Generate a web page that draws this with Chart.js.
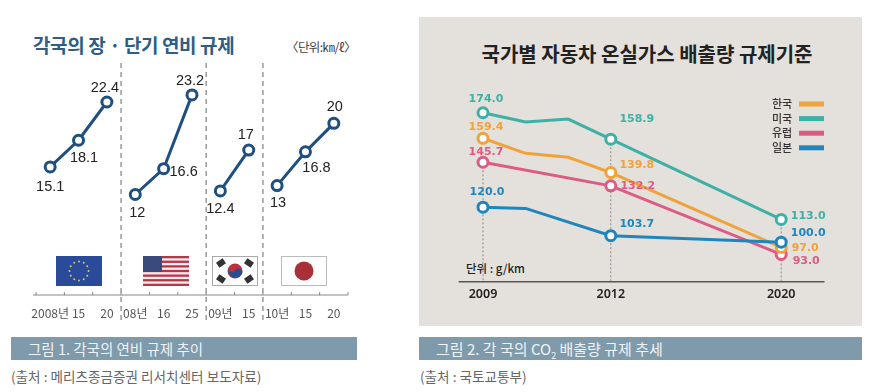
<!DOCTYPE html>
<html>
<head>
<meta charset="utf-8">
<script src="https://cdn.jsdelivr.net/npm/chart.js@4"></script>
<style>
  html, body { margin: 0; padding: 0; background: #fff; width: 873px; height: 392px; overflow: hidden; font-family: 'Noto Sans CJK KR', sans-serif; }
  canvas { position: absolute; }
  #panel { position: absolute; left: 419px; top: 17px; width: 443px; height: 309px; background: #e4e0db; }
  .txt { position: absolute; white-space: nowrap; line-height: 1; }
  .bar { position: absolute; top: 337px; height: 23px; background: #7f9bab; color: #eef3f5; line-height: 23px; }
  .flag { position: absolute; top: 256px; width: 46px; height: 30px; }
</style>
</head>
<body>
<div id="panel"></div>
<div class="txt" style="left:33px;top:35px;font-size:19px;font-weight:700;color:#2f5d85;letter-spacing:-0.4px">각국의 장 · 단기 연비 규제</div>
<div class="txt" style="left:286px;top:41px;font-size:12.5px;color:#444;letter-spacing:-0.6px">〈단위:㎞/ℓ〉</div>
<div class="txt" style="left:647px;top:44px;transform:translateX(-50%);font-size:20px;font-weight:700;color:#222">국가별 자동차 온실가스 배출량 규제기준</div>
<div class="txt" style="left:466px;top:263px;font-size:11.5px;font-weight:500;color:#222">단위 : g/km</div>

<svg class="flag" style="left:56px" viewBox="0 0 46 30" id="flagEu"><rect width="46" height="30" fill="#2a4a9a"/></svg>
<svg class="flag" style="left:143px" viewBox="0 0 46 30" id="flagUs"><rect width="46" height="30" fill="#f4eeee"/></svg>
<svg class="flag" style="left:212px" viewBox="0 0 46 30">
  <rect x="0.5" y="0.5" width="45" height="29" fill="#fff" stroke="#aaa"/>
  <circle cx="23" cy="15" r="7.5" fill="#b8333f"/>
  <path d="M16 13.5a7.5 7.5 0 0 0 14.4 3.5a4 4 0 0 0-7-3a4 4 0 0 1-7.400-.5z" fill="#23508f"/>
  <g fill="#333">
    <rect x="-4" y="-3" width="8" height="6" transform="translate(9 7) rotate(-35)"/>
    <rect x="-4" y="-3" width="8" height="6" transform="translate(37 7) rotate(35)"/>
    <rect x="-4" y="-3" width="8" height="6" transform="translate(9 23) rotate(35)"/>
    <rect x="-4" y="-3" width="8" height="6" transform="translate(37 23) rotate(-35)"/>
  </g>
</svg>
<svg class="flag" style="left:281px" viewBox="0 0 46 30">
  <rect x="0.5" y="0.5" width="45" height="29" fill="#fff" stroke="#bbb"/>
  <circle cx="23" cy="15" r="9.500" fill="#a93036"/>
</svg>

<canvas id="effChart" width="400" height="335" style="left:0;top:0;width:400px;height:335px"></canvas>
<canvas id="co2Chart" width="443" height="309" style="left:419px;top:17px;width:443px;height:309px"></canvas>

<div class="bar" style="left:11px;width:346px;text-indent:17px;font-size:14.5px">그림 1. 각국의 연비 규제 추이</div>
<div class="bar" style="left:419px;width:443px;text-indent:17px;font-size:15px">그림 2. 각 국의 CO<sub style="font-size:9px;line-height:0">2</sub> 배출량 규제 추세</div>
<div class="txt" style="left:11px;top:370px;font-size:13.6px;color:#666">(출처 : 메리츠종금증권 리서치센터 보도자료)</div>
<div class="txt" style="left:420px;top:370px;font-size:13.6px;color:#666">(출처 : 국토교통부)</div>

<script>
// left chart: fuel economy rules (km/l)
const effYears = ['2008년', '15', '20', '08년', '16', '25', '09년', '15', '10년', '15', '20'];
const effEu = [15.1, 18.1, 22.4, null, null, null, null, null, null, null, null];
// the reference draws the US 16 point lower than its printed 16.6, so plotted and printed differ
const effUs = [null, null, null, 12, 14.9, 23.2, null, null, null, null, null];
const effUsPrinted = [null, null, null, 12, 16.6, 23.2, null, null, null, null, null];
const effKr = [null, null, null, null, null, null, 12.4, 17, null, null, null];
const effJp = [null, null, null, null, null, null, null, null, 13, 16.8, 20];

// right chart: CO2 rules (g/km), blank labels are the unlabelled bends of the lines
const co2Years = ['2009', '', '', '2012', '', '', '', '2020'];
const co2Names = ['한국', '미국', '유럽', '일본'];
const co2Kr = [159.4, 150.8, 148.5, 139.8, null, null, null, 97.0];
const co2Us = [174.0, 168.7, 170.4, 158.9, null, null, null, 113.0];
const co2Eu = [145.7, null, null, 132.2, null, null, null, 93.0];
const co2Jp = [120.0, 119.3, null, 103.7, null, null, null, 100.0];
const co2GuideTops = [145.7, null, null, 158.9, null, null, null, 113.0];

const navy = '#1f4f7e';

// prints the value next to each visible point
const valueLabels = {
    id: 'valueLabels',
    afterDatasetsDraw(chart) {
        const ctx = chart.ctx;
        chart.data.datasets.forEach((ds, d) => {
            const meta = chart.getDatasetMeta(d);
            ctx.save();
            ctx.font = ds.labelFont;
            ctx.fillStyle = ds.labelColor;
            ctx.textAlign = 'center';
            ctx.textBaseline = 'middle';
            Object.keys(ds.labelOffsets).forEach(i => {
                const pt = meta.data[i];
                const off = ds.labelOffsets[i];
                const v = (ds.printed || ds.data)[i];
                const text = ds.decimals ? v.toFixed(ds.decimals) : String(v);
                ctx.fillText(text, pt.x + off[0], pt.y + off[1]);
            });
            ctx.restore();
        });
    }
};

// dashed panel separators, axis line and the small upward ticks
const effDecor = {
    id: 'effDecor',
    beforeDatasetsDraw(chart) {
        const ctx = chart.ctx;
        const area = chart.chartArea;
        const step = area.width / effYears.length;
        ctx.save();
        ctx.strokeStyle = '#888';
        ctx.lineWidth = 1;
        ctx.beginPath();
        ctx.moveTo(area.left - 3, area.bottom);
        ctx.lineTo(area.right, area.bottom);
        for (let i = 0; i <= effYears.length; i++) {
            ctx.moveTo(area.left + i * step, area.bottom);
            ctx.lineTo(area.left + i * step, area.bottom - 3);
        }
        ctx.stroke();
        ctx.strokeStyle = '#999';
        ctx.lineWidth = 1.5;
        ctx.setLineDash([5, 4]);
        [3, 6, 8].forEach(i => {
            ctx.beginPath();
            ctx.moveTo(area.left + i * step, 63);
            ctx.lineTo(area.left + i * step, 323);
            ctx.stroke();
        });
        ctx.restore();
    }
};

// baseline, dotted guides and the legend of the right chart
const co2Decor = {
    id: 'co2Decor',
    beforeDatasetsDraw(chart) {
        const ctx = chart.ctx;
        const area = chart.chartArea;
        const x = chart.scales.x;
        const y = chart.scales.y;
        ctx.save();
        ctx.strokeStyle = '#8a8a8a';
        ctx.lineWidth = 1;
        ctx.setLineDash([2, 2]);
        co2GuideTops.forEach((top, i) => {
            if (top === null) return;
            ctx.beginPath();
            ctx.moveTo(x.getPixelForValue(i), y.getPixelForValue(top));
            ctx.lineTo(x.getPixelForValue(i), area.bottom);
            ctx.stroke();
        });
        ctx.setLineDash([]);
        ctx.strokeStyle = '#555';
        ctx.lineWidth = 1.5;
        ctx.beginPath();
        ctx.moveTo(area.left - 3, area.bottom);
        ctx.lineTo(area.right + 22, area.bottom);
        ctx.stroke();

        ctx.font = "500 11px 'Noto Sans CJK KR'";
        ctx.textAlign = 'center';
        ctx.textBaseline = 'middle';
        chart.data.datasets.forEach((ds, i) => {
            const rowY = 87 + i * 14.6;
            ctx.fillStyle = '#333';
            ctx.fillText(ds.label, 363, rowY);
            ctx.fillStyle = ds.borderColor;
            ctx.fillRect(380, rowY - 2.5, 25, 5);
        });
        ctx.restore();
    }
};

function effSeries(label, data, labelOffsets, printed) {
    return {
        label, data, labelOffsets, printed,
        labelFont: "14.5px 'Liberation Sans'",
        labelColor: '#222',
        borderColor: navy,
        borderWidth: 3,
        backgroundColor: '#fff',
        pointBackgroundColor: '#fff',
        pointBorderColor: navy,
        pointBorderWidth: 3,
        pointRadius: 5,
        tension: 0
    };
}

new Chart(document.getElementById('effChart'), {
    type: 'line',
    data: {
        labels: effYears,
        datasets: [
            effSeries('EU', effEu, { 0: [0, 20], 1: [5.5, 18], 2: [-2, -14] }),
            effSeries('미국', effUs, { 3: [2, 18], 4: [20, 3], 5: [-2, -14] }, effUsPrinted),
            effSeries('한국', effKr, { 6: [0, 18], 7: [-3, -15] }),
            effSeries('일본', effJp, { 8: [1, 17], 9: [11, 16], 10: [1, -16] })
        ]
    },
    options: {
        responsive: false,
        animation: false,
        layout: { padding: { left: 36, right: 52, top: 70 } },
        plugins: { legend: { display: false }, tooltip: { enabled: false } },
        scales: {
            x: {
                offset: true,
                afterFit: s => { s.height = 40; },
                grid: { display: false },
                border: { display: false },
                ticks: {
                    autoSkip: false, maxRotation: 0, padding: 3,
                    color: '#555',
                    font: { family: "'Noto Sans CJK KR'", size: 12 }
                }
            },
            y: { display: false, min: 0.7, max: 26 }
        }
    },
    plugins: [effDecor, valueLabels]
});

function co2Series(i, data, color, order, labelOffsets) {
    return {
        label: co2Names[i], data, labelOffsets, order,
        decimals: 1,
        labelFont: "bold 11px 'DejaVu Sans'",
        labelColor: color,
        borderColor: color,
        borderWidth: 3,
        backgroundColor: '#fff',
        pointBackgroundColor: '#fff',
        pointBorderColor: color,
        pointBorderWidth: 3,
        // only the labelled years carry a marker
        pointRadius: ctx => co2Years[ctx.dataIndex] === '' ? 0 : 5,
        spanGaps: true,
        tension: 0
    };
}

new Chart(document.getElementById('co2Chart'), {
    type: 'line',
    data: {
        labels: co2Years,
        datasets: [
            co2Series(0, co2Kr, '#f0a33a', 2, { 0: [3, -11], 3: [26, -7], 7: [24, 0.5] }),
            co2Series(1, co2Us, '#3fb0a6', 1, { 0: [3, -14], 3: [26, -20], 7: [27, -3.5] }),
            co2Series(2, co2Eu, '#dd5c85', 3, { 0: [3, -10], 3: [27, 0], 7: [25, 6.5] }),
            co2Series(3, co2Jp, '#1f86bd', 0, { 0: [4, -15], 3: [26, -12], 7: [27, -9] })
        ]
    },
    options: {
        responsive: false,
        animation: false,
        layout: { padding: { left: 42.7, right: 59.5, top: 55 } },
        plugins: { legend: { display: false }, tooltip: { enabled: false } },
        scales: {
            x: {
                offset: true,
                afterFit: s => { s.height = 44.3; },
                grid: { display: false },
                border: { display: false },
                ticks: {
                    autoSkip: false, maxRotation: 0, padding: -3,
                    color: '#222',
                    font: { family: "'Noto Sans'", size: 12.5, weight: '600' }
                }
            },
            y: { display: false, min: 77.4, max: 197.3 }
        }
    },
    plugins: [co2Decor, valueLabels]
});

// flag details
const svgNs = 'http://www.w3.org/2000/svg';
function addShape(parent, tag, attrs) {
    const el = document.createElementNS(svgNs, tag);
    Object.keys(attrs).forEach(k => el.setAttribute(k, attrs[k]));
    parent.appendChild(el);
}
const flagEu = document.getElementById('flagEu');
for (let i = 0; i < 12; i++) {
    const a = i * Math.PI / 6;
    addShape(flagEu, 'circle', { cx: 23 + 9.5 * Math.cos(a), cy: 15 + 9.5 * Math.sin(a), r: 1, fill: '#d8c85a' });
}
const flagUs = document.getElementById('flagUs');
for (let i = 0; i < 7; i++) {
    addShape(flagUs, 'rect', { x: 0, y: i * 4.62, width: 46, height: 2.31, fill: '#b5384a' });
}
addShape(flagUs, 'rect', { x: 0, y: 0, width: 19, height: 16, fill: '#3a4a7c' });
</script>
</body>
</html>
